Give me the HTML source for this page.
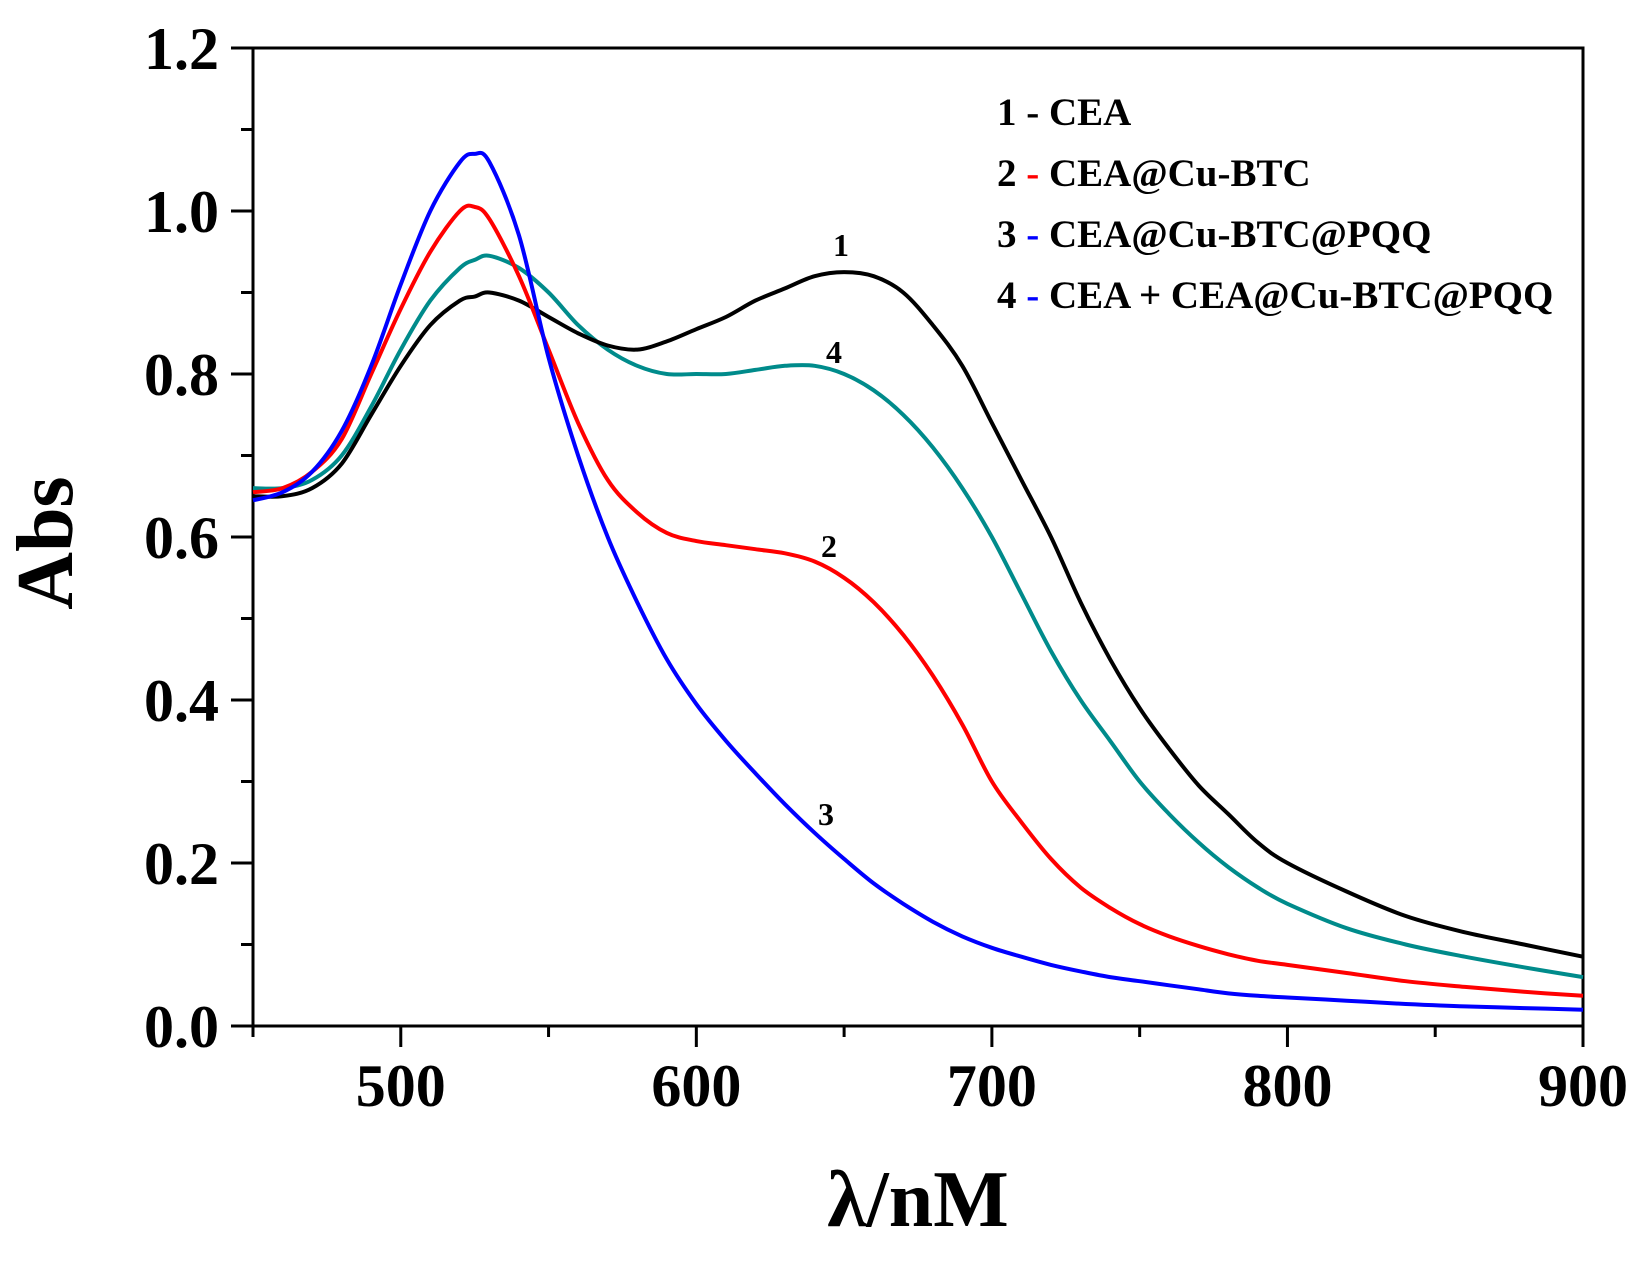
<!DOCTYPE html>
<html><head><meta charset="utf-8"><style>
html,body{margin:0;padding:0;background:#fff;}
svg text{font-family:"Liberation Serif",serif;font-weight:bold;fill:#000;}
</style></head><body>
<svg id="chart" width="1639" height="1259" viewBox="0 0 1639 1259" xmlns="http://www.w3.org/2000/svg">
<g id="axes"></g>
<g id="series"></g>
<g id="legend">
<text x="997" y="125" font-size="39">1 - CEA</text>
<text x="997" y="186" font-size="39">2 <tspan fill="#ff0000">-</tspan> CEA@Cu-BTC</text>
<text x="997" y="247" font-size="39">3 <tspan fill="#0000ff">-</tspan> CEA@Cu-BTC@PQQ</text>
<text x="997" y="308" font-size="39">4 <tspan fill="#0000ff">-</tspan> CEA + CEA@Cu-BTC@PQQ</text>
</g>
<text x="918" y="1226" font-size="80" text-anchor="middle">λ/nM</text>
<text transform="translate(72,543) rotate(-90)" font-size="80" text-anchor="middle">Abs</text>
</svg>
<script>
const wavelengths = [450,460,470,480,490,500,510,520,525,530,540,550,560,570,580,590,600,610,620,630,640,650,660,670,680,690,700,710,720,730,740,750,760,770,780,790,800,820,840,860,880,900];
const absCEA =      [0.65,0.65,0.66,0.69,0.75,0.81,0.86,0.89,0.895,0.90,0.89,0.87,0.85,0.835,0.83,0.84,0.855,0.87,0.89,0.905,0.92,0.925,0.92,0.90,0.86,0.81,0.74,0.67,0.60,0.52,0.45,0.39,0.34,0.295,0.26,0.225,0.20,0.165,0.135,0.115,0.10,0.085];
const absCuBTC =    [0.655,0.66,0.68,0.72,0.80,0.88,0.95,1.0,1.005,0.99,0.92,0.83,0.74,0.67,0.63,0.605,0.595,0.59,0.585,0.58,0.57,0.55,0.52,0.48,0.43,0.37,0.30,0.25,0.205,0.17,0.145,0.125,0.11,0.098,0.088,0.08,0.075,0.065,0.055,0.048,0.042,0.037];
const absPQQ =      [0.645,0.655,0.68,0.73,0.81,0.91,1.0,1.06,1.07,1.06,0.97,0.82,0.70,0.60,0.52,0.45,0.395,0.35,0.31,0.272,0.237,0.205,0.175,0.15,0.128,0.11,0.096,0.085,0.075,0.067,0.06,0.055,0.05,0.045,0.04,0.037,0.035,0.031,0.027,0.024,0.022,0.02];
const absMix =      [0.66,0.66,0.67,0.70,0.76,0.83,0.89,0.93,0.94,0.945,0.93,0.90,0.86,0.83,0.81,0.80,0.80,0.80,0.805,0.81,0.81,0.80,0.78,0.75,0.71,0.66,0.60,0.53,0.46,0.40,0.35,0.30,0.26,0.225,0.195,0.17,0.15,0.12,0.10,0.085,0.072,0.06];
const yTicks = [0.0,0.2,0.4,0.6,0.8,1.0,1.2];
const yTickLabels = ["0.0","0.2","0.4","0.6","0.8","1.0","1.2"];
const xTicks = [500,600,700,800,900];
const xTickLabels = ["500","600","700","800","900"];

const L=253,R=1583,T=48,B=1026;
const X0=450,X1=900,Y0=0,Y1=1.2;
function xs(v){return L+(v-X0)/(X1-X0)*(R-L);}
function ys(v){return B-(v-Y0)/(Y1-Y0)*(B-T);}
const NS="http://www.w3.org/2000/svg";
const axes=document.getElementById('axes');
function mk(tag,attrs,parent){const e=document.createElementNS(NS,tag);for(const k in attrs)e.setAttribute(k,attrs[k]);parent.appendChild(e);return e;}

const frame=mk('rect',{x:L,y:T,width:R-L,height:B-T,fill:'none',stroke:'#000','stroke-width':3},axes);



for(let v=0;v<=1.2001;v+=0.1){
  const major=Math.abs(Math.round(v*10)%2)===0;
  const t=mk('line',{x1:L-(major?22:12),x2:L,y1:ys(v),y2:ys(v),stroke:'#000','stroke-width':3},axes);
  
  
}
yTicks.forEach((v,i)=>{
  const t=mk('text',{x:219,y:ys(v)+21,'font-size':60,'text-anchor':'end'},axes);
  t.textContent=yTickLabels[i];
  
  
});
for(let v=450;v<=900;v+=50){
  const major=v%100===0;
  const t=mk('line',{x1:xs(v),x2:xs(v),y1:B,y2:B+(major?21:11),stroke:'#000','stroke-width':3},axes);
  
  
}
xTicks.forEach((v,i)=>{
  const t=mk('text',{x:xs(v),y:1106,'font-size':60,'text-anchor':'middle'},axes);
  t.textContent=xTickLabels[i];
  
  
});

const ser=document.getElementById('series');
function line(vals,color,name){
  const P=vals.map((v,i)=>[xs(wavelengths[i]),ys(v)]);
  let d='M'+P[0][0].toFixed(1)+','+P[0][1].toFixed(1);
  for(let i=0;i<P.length-1;i++){
    const p0=P[Math.max(0,i-1)],p1=P[i],p2=P[i+1],p3=P[Math.min(P.length-1,i+2)];
    const c1=[p1[0]+(p2[0]-p0[0])/6,p1[1]+(p2[1]-p0[1])/6];
    const c2=[p2[0]-(p3[0]-p1[0])/6,p2[1]-(p3[1]-p1[1])/6];
    d+=' C'+c1[0].toFixed(1)+','+c1[1].toFixed(1)+' '+c2[0].toFixed(1)+','+c2[1].toFixed(1)+' '+p2[0].toFixed(1)+','+p2[1].toFixed(1);
  }
  const p=mk('path',{d:d,fill:'none',stroke:color,'stroke-width':4,'stroke-linejoin':'round'},ser);
  
  
}
line(absMix,'#008b8b','series-4-cea-plus-pqq');
line(absCEA,'#000000','series-1-cea');
line(absCuBTC,'#ff0000','series-2-cea-cu-btc');
line(absPQQ,'#0000ff','series-3-cea-cu-btc-pqq');

const lbls=[["1",841,256],["4",834,363],["2",829,557],["3",826,825]];
lbls.forEach(a=>{
  const t=mk('text',{x:a[1],y:a[2],'font-size':32,'text-anchor':'middle'},ser);
  t.textContent=a[0];
  
  
});
</script>
</body></html>
